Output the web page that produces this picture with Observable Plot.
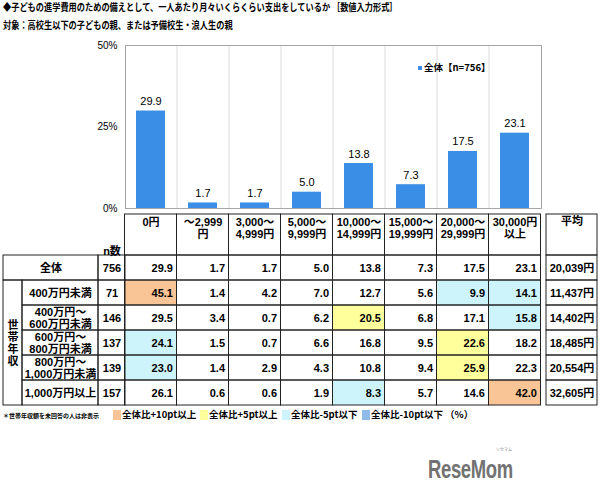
<!DOCTYPE html>
<html><head><meta charset="utf-8">
<script src="https://cdn.jsdelivr.net/npm/d3@7"></script>
<script src="https://cdn.jsdelivr.net/npm/@observablehq/plot@0.6"></script>
<style>
body{margin:0;background:#fff;}
#root{position:relative;width:600px;height:491px;overflow:hidden;background:#fff;font-family:"Noto Sans CJK JP","Liberation Sans",sans-serif;color:#000;}
.abs{position:absolute;white-space:nowrap;}
.title{font-size:10px;font-weight:bold;line-height:10px;transform:scaleX(0.82);transform-origin:left top;}
.leg{font-size:9.5px;font-weight:bold;line-height:11px;}
.sw{position:absolute;width:8px;height:10px;}
</style></head>
<body><div id="root">
<div class="abs title" style="left:3px;top:2px">◆子どもの進学費用のための備えとして、一人あたり月々いくらくらい支出をしているか ［数値入力形式］</div>
<div class="abs title" style="left:3px;top:20px">対象：高校生以下の子どもの親、または予備校生・浪人生の親</div>
</div>
<script>
// ---------- data ----------
const categories = ["0円","～2,999円","3,000～4,999円","5,000～9,999円","10,000～14,999円","15,000～19,999円","20,000～29,999円","30,000円以上"];
const headerLabels = ["0円","～2,999\n円","3,000～\n4,999円","5,000～\n9,999円","10,000～\n14,999円","15,000～\n19,999円","20,000～\n29,999円","30,000円\n以上"];
const groupNames = ["全体","400万円未満","400万円～600万円未満","600万円～800万円未満","800万円～1,000万円未満","1,000万円以上"];
const groupLabels = ["全体","400万円未満","400万円～\n600万円未満","600万円～\n800万円未満","800万円～\n1,000万円未満","1,000万円以上"];
const segmentLabel = "世帯年収";
const nCounts = [756,71,146,137,139,157];
const avgYen = [20039,11437,14402,18485,20554,32605];
const valuesTotal     = [29.9,1.7,1.7,5.0,13.8,7.3,17.5,23.1];
const valuesUnder400  = [45.1,1.4,4.2,7.0,12.7,5.6,9.9,14.1];
const values400to600  = [29.5,3.4,0.7,6.2,20.5,6.8,17.1,15.8];
const values600to800  = [24.1,1.5,0.7,6.6,16.8,9.5,22.6,18.2];
const values800to1000 = [23.0,1.4,2.9,4.3,10.8,9.4,25.9,22.3];
const values1000plus  = [26.1,0.6,0.6,1.9,8.3,5.7,14.6,42.0];
const yTicks = [0,25,50];
const seriesLabel = "全体【n=756】";
const legendLabels = ["全体比+10pt以上","全体比+5pt以上","全体比-5pt以下","全体比-10pt以下"];
const unitLabel = "（%）";
const footnote = "＊世帯年収額を未回答の人は非表示";

// ---------- style / layout ----------
const C = {bar:"#3a8ee6", orange:"#f9c596", yellow:"#ffff9c", cyan:"#cdf4fa", blue:"#8fbbe8", line:"#222", frame:"#a6a6a6", grid:"#dcdcdc"};
const font = '"Liberation Sans","Noto Sans CJK JP",sans-serif';
const L = {chartLeft:125, chartRight:541, chartTop:45, chartBottom:208, svgH:215,
  tableLeft:3, groupRight:22, labelRight:98, headerTop:214, bodyTop:255, rowH:25, avgLeft:546, avgRight:597};

const rows = [valuesTotal, valuesUnder400, values400to600, values600to800, values800to1000, values1000plus];
const root = document.getElementById("root");

// ---------- bar chart ----------
const chartData = categories.map((c,i)=>({cat:c, value:valuesTotal[i]}));
const step = (L.chartRight - L.chartLeft) / categories.length;
const chart = Plot.plot({
  width: 600, height: L.svgH,
  marginLeft: L.chartLeft, marginRight: 600 - L.chartRight, marginTop: L.chartTop, marginBottom: L.svgH - L.chartBottom,
  style: {fontFamily: font, fontSize: "10px", color: "#000", background: "transparent", overflow: "visible"},
  x: {domain: categories, paddingInner: 0.44, paddingOuter: 0.22, axis: null},
  y: {domain: [0, 50], ticks: yTicks, tickFormat: d => d + "%", tickSize: 0, tickPadding: 8, label: null},
  marks: [
    Plot.ruleX(categories.slice(1), {dx: -step/2, stroke: C.grid}),
    Plot.barY(chartData, {x: "cat", y: "value", fill: C.bar}),
    Plot.text(chartData, {x: "cat", y: "value", text: d => d.value.toFixed(1), lineAnchor: "bottom", dy: -6, fontSize: 11}),
    Plot.frame({stroke: C.frame})
  ]
});
chart.style.position = "absolute"; chart.style.left = "0px"; chart.style.top = "0px";
root.appendChild(chart);

const xs = chart.scale("x");
const bw = xs.bandwidth, st = xs.step || step;
const colLeft = c => xs.apply(c) - (st - bw) / 2;
const colRight = c => colLeft(c) + st;
const colCenter = c => colLeft(c) + st / 2;

// ---------- table ----------
const nRows = groupNames.length;
const headerRows = (L.bodyTop - L.headerTop) / L.rowH;
const tableH = L.bodyTop + nRows * L.rowH - L.headerTop;

const outlines = [];
categories.forEach(c => outlines.push({x1: colLeft(c), x2: colRight(c), y1: -headerRows, y2: 0}));
outlines.push({x1: L.avgLeft, x2: L.avgRight, y1: -headerRows, y2: 0});
groupNames.forEach((g, r) => {
  outlines.push({x1: r === 0 ? L.tableLeft : L.groupRight, x2: L.labelRight, y1: r, y2: r + 1});
  outlines.push({x1: L.labelRight, x2: L.chartLeft, y1: r, y2: r + 1});
  categories.forEach(c => outlines.push({x1: colLeft(c), x2: colRight(c), y1: r, y2: r + 1}));
  outlines.push({x1: L.avgLeft, x2: L.avgRight, y1: r, y2: r + 1});
});
outlines.push({x1: L.tableLeft, x2: L.groupRight, y1: 1, y2: nRows});

function highlight(v, base) {
  const d = v - base;
  if (d >= 10) return C.orange;
  if (d >= 5) return C.yellow;
  if (d <= -10) return C.blue;
  if (d <= -5) return C.cyan;
  return null;
}
const valueCells = [];
rows.forEach((vals, r) => vals.forEach((v, i) => {
  const c = categories[i];
  valueCells.push({r, c, v, x1: colLeft(c), x2: colRight(c), fill: r === 0 ? null : highlight(v, valuesTotal[i])});
}));
const filled = valueCells.filter(d => d.fill);

const rowInfo = groupNames.map((g, r) => ({r, label: groupLabels[r], n: nCounts[r], avg: avgYen[r]}));
const fmt = d3.format(",");

const table = Plot.plot({
  width: 600, height: tableH + 2,
  margin: 0,
  style: {fontFamily: font, fontSize: "11px", color: "#000", background: "transparent", overflow: "visible"},
  x: {type: "identity", axis: null},
  y: {domain: [-headerRows, nRows], range: [1, tableH + 1], axis: null},
  color: {type: "identity"},
  marks: [
    Plot.rect(filled, {x1: "x1", x2: "x2", y1: d => d.r, y2: d => d.r + 1, fill: "fill"}),
    Plot.rect(outlines, {x1: "x1", x2: "x2", y1: "y1", y2: "y2", fill: "none", stroke: C.line}),
    Plot.text(categories, {x: c => colCenter(c), y: -headerRows, text: (c, i) => headerLabels[i], lineAnchor: "top", dy: 3, lineHeight: 1.1, fontWeight: "bold"}),
    Plot.text(["平均"], {x: (L.avgLeft + L.avgRight) / 2, y: -headerRows, lineAnchor: "top", dy: 3, fontWeight: "bold"}),
    Plot.text(["n数"], {x: (L.labelRight + L.chartLeft) / 2, y: 0, lineAnchor: "bottom", dy: -1, fontWeight: "bold"}),
    Plot.text(rowInfo, {x: d => d.r === 0 ? (L.tableLeft + L.labelRight) / 2 : (L.groupRight + L.labelRight) / 2, y: d => d.r + 0.5, text: "label", lineHeight: 1.1, fontWeight: "bold"}),
    Plot.text([segmentLabel], {x: (L.tableLeft + L.groupRight) / 2, y: (1 + nRows) / 2, text: d => d.split("").join("\n"), lineHeight: 1.1, fontWeight: "bold"}),
    Plot.text(rowInfo, {x: (L.labelRight + L.chartLeft) / 2, y: d => d.r + 0.5, text: d => String(d.n), fontWeight: "bold"}),
    Plot.text(valueCells, {x: "x2", y: d => d.r + 0.5, text: d => d.v.toFixed(1), textAnchor: "end", dx: -4, fontWeight: "bold"}),
    Plot.text(rowInfo, {x: (L.avgLeft + L.avgRight) / 2, y: d => d.r + 0.5, text: d => fmt(d.avg) + "円", fontWeight: "bold"})
  ]
});
table.style.position = "absolute"; table.style.left = "0px"; table.style.top = (L.headerTop - 1) + "px";
root.appendChild(table);

// ---------- legends & notes ----------
function addDiv(html, left, top, cls, style) {
  const d = document.createElement("div");
  d.className = "abs " + (cls || "");
  d.style.left = left + "px"; d.style.top = top + "px";
  if (style) Object.assign(d.style, style);
  d.innerHTML = html;
  root.appendChild(d);
  return d;
}
// series legend in chart
addDiv(`<span style="display:inline-block;width:4px;height:4px;background:${C.bar};margin-right:2px;vertical-align:middle"></span>${seriesLabel}`, 418, 62, "leg");

// bottom legend
addDiv(footnote, 3, 412, "", {fontSize: "6px", fontWeight: "bold", lineHeight: "7px"});
const swColors = [C.orange, C.yellow, C.cyan, C.blue];
const legX = [113, 200, 282, 362];
legendLabels.forEach((t, i) => {
  const s = document.createElement("div");
  s.className = "sw"; s.style.left = legX[i] + "px"; s.style.top = "410px"; s.style.background = swColors[i];
  root.appendChild(s);
  addDiv(t, legX[i] + 9, 409, "leg");
});
addDiv(unitLabel, 445, 409, "leg");

// logo
addDiv("リセマム", 496, 447, "", {fontSize: "4px", color: "#888", lineHeight: "5px"});
addDiv("ReseMom", 428, 460, "", {fontFamily: '"Liberation Sans",sans-serif', fontSize: "25px", fontWeight: "bold", color: "#727272", letterSpacing: "-0.5px", transform: "scaleX(0.74)", transformOrigin: "left top", lineHeight: "18px"});
</script>
</body></html>
